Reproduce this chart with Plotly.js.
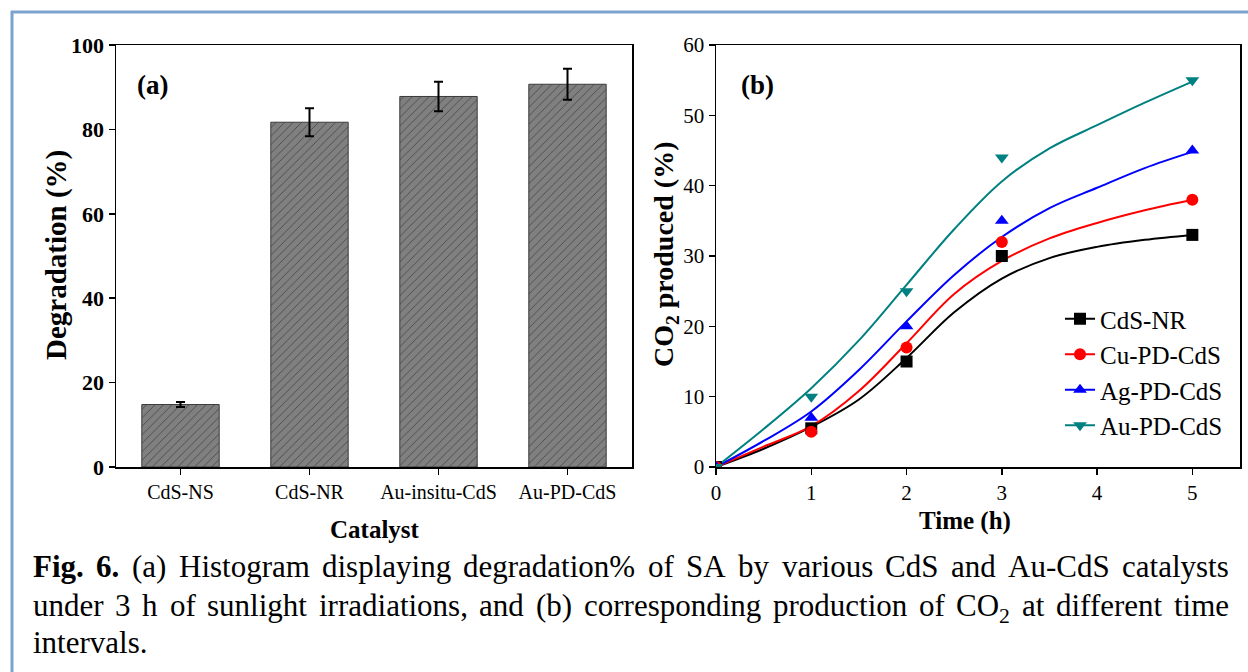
<!DOCTYPE html>
<html>
<head>
<meta charset="utf-8">
<script src="https://cdn.plot.ly/plotly-3.0.1.min.js"></script>
<style>html,body{margin:0;padding:0;background:#fff;}#chart{width:1248px;height:672px;}</style>
</head>
<body>
<div id="chart"></div>
<script>
// ---------- Data ----------
const categories = ['CdS-NS', 'CdS-NR', 'Au-insitu-CdS', 'Au-PD-CdS'];
const degradation = [14.8, 81.7, 87.8, 90.7];
const degradationErr = [0.6, 3.3, 3.5, 3.7];

const timeH = [0, 1, 2, 3, 5];
const co2CdSNR = [0, 5.5, 15, 30, 33];
const co2CuPD = [0, 5, 17, 32, 38];
const co2AgPD = [0, 7, 20, 35, 45];
const co2AuPD = [0, 10, 25, 44, 55];

const fitTime = [0, 0.5, 1, 1.5, 2, 2.5, 3, 3.5, 4, 4.5, 5];
const fitCdSNR = [0, 2.6, 5.7, 9.6, 15.5, 22, 26.8, 29.7, 31.3, 32.3, 33];
const fitCuPD = [0, 2.9, 5.8, 10.8, 17.6, 24.6, 29.3, 32.5, 34.7, 36.5, 38];
const fitAgPD = [0, 3.7, 7.9, 13.8, 20.7, 27.3, 32.7, 36.8, 39.7, 42.5, 44.8];
const fitAuPD = [0, 5.4, 11.2, 18.0, 25.9, 33.8, 40.6, 45.3, 48.6, 51.8, 54.8];

const seriesNames = ['CdS-NR', 'Cu-PD-CdS', 'Ag-PD-CdS', 'Au-PD-CdS'];
const seriesColors = ['#000000', '#ff0000', '#0000ff', '#008080'];
const seriesSymbols = ['square', 'circle', 'triangle-up', 'triangle-down'];

const captionLine1 = ['Fig.', '6.', '(a)', 'Histogram', 'displaying', 'degradation%', 'of', 'SA', 'by', 'various', 'CdS', 'and', 'Au-CdS', 'catalysts'];
const captionLine2 = ['under', '3', 'h', 'of', 'sunlight', 'irradiations,', 'and', '(b)', 'corresponding', 'production', 'of', 'CO|2', 'at', 'different', 'time'];
const captionLine3 = 'intervals.';

// ---------- Geometry (pixels) ----------
const W = 1248, H = 672;
const px = v => v / W;
const py = v => 1 - v / H;
const SERIF = '"Liberation Serif", "Times New Roman", serif';
const CAP_SIZE = 31;

// ---------- Traces ----------
const traces = [];
traces.push({
  type: 'bar', x: categories, y: degradation, xaxis: 'x', yaxis: 'y',
  width: 0.6, showlegend: false,
  marker: {
    color: '#7c7c7c',
    line: {color: '#3a3a3a', width: 1},
    pattern: {shape: '/', fillmode: 'replace', bgcolor: '#808080', fgcolor: '#2e2e2e', size: 6, solidity: 0.1}
  },
  error_y: {type: 'data', array: degradationErr, visible: true, color: '#000', thickness: 2, width: 4.5}
});

const co2Series = [co2CdSNR, co2CuPD, co2AgPD, co2AuPD];
const fitSeries = [fitCdSNR, fitCuPD, fitAgPD, fitAuPD];
for (let i = 0; i < 4; i++) {
  traces.push({
    type: 'scatter', mode: 'lines', x: fitTime, y: fitSeries[i], xaxis: 'x2', yaxis: 'y2',
    line: {color: seriesColors[i], width: 2, shape: 'spline', smoothing: 1}, showlegend: false
  });
}
for (let i = 0; i < 4; i++) {
  traces.push({
    type: 'scatter', mode: 'markers', x: timeH, y: co2Series[i], xaxis: 'x2', yaxis: 'y2',
    marker: {color: seriesColors[i], symbol: seriesSymbols[i], size: 12}, showlegend: false
  });
}
for (let i = 0; i < 4; i++) {
  traces.push({
    type: 'scatter', mode: 'lines+markers', x: [null], y: [null], xaxis: 'x2', yaxis: 'y2',
    name: seriesNames[i],
    line: {color: seriesColors[i], width: 2},
    marker: {color: seriesColors[i], symbol: seriesSymbols[i], size: 12}
  });
}

// ---------- Caption (justified) ----------
const cvs = document.createElement('canvas');
const ctx = cvs.getContext('2d');
function measure(t, bold, size) {
  ctx.font = (bold ? 'bold ' : '') + size + 'px "Liberation Serif"';
  return ctx.measureText(t).width;
}
function wordInfo(w, boldCount, idx) {
  const bold = idx < boldCount;
  if (w.indexOf('|') >= 0) {
    const parts = w.split('|');
    return {html: parts[0] + '<sub>' + parts[1] + '</sub>', bold: bold, sub: true,
      width: measure(parts[0], bold, CAP_SIZE) + measure(parts[1], bold, CAP_SIZE * 0.7)};
  }
  return {html: w, bold: bold, sub: false, width: measure(w, bold, CAP_SIZE)};
}
function justifiedLine(words, boldCount, yc, left, right) {
  const info = words.map((w, i) => wordInfo(w, boldCount, i));
  const total = info.reduce((s, o) => s + o.width, 0);
  const gap = (right - left - total) / (words.length - 1);
  const anns = [];
  let x = left;
  info.forEach(o => {
    anns.push({
      xref: 'paper', yref: 'paper', x: px(x), y: py(yc), xanchor: 'left', yanchor: 'middle',
      yshift: o.sub ? -3 : 0,
      text: o.bold ? '<b>' + o.html + '</b>' : o.html, showarrow: false, borderpad: 0,
      font: {family: SERIF, size: CAP_SIZE, color: '#000'}
    });
    x += o.width + gap;
  });
  return anns;
}

function label(x, y, text, size, angle) {
  return {xref: 'paper', yref: 'paper', x: px(x), y: py(y), xanchor: 'center', yanchor: 'middle',
    text: text, textangle: angle || 0, showarrow: false, font: {family: SERIF, size: size, color: '#000'}};
}

const annotations = [];
annotations.push(label(152, 85, '<b>(a)</b>', 27));
annotations.push(label(757, 85, '<b>(b)</b>', 27));
annotations.push(label(56, 255, '<b>Degradation (%)</b>', 29, -90));
annotations.push(label(665, 254, '<b>CO<sub>2</sub> produced (%)</b>', 28, -90));
annotations.push(label(375, 529, '<b>Catalyst</b>', 25));
annotations.push(label(965, 521, '<b>Time (h)</b>', 25));

const capLeft = 32, capRight = 1228;
annotations.push(...justifiedLine(captionLine1, 2, 566, capLeft, capRight));
annotations.push(...justifiedLine(captionLine2, 0, 605, capLeft, capRight));
annotations.push({xref: 'paper', yref: 'paper', x: px(capLeft), y: py(642), xanchor: 'left', yanchor: 'middle',
  text: captionLine3, showarrow: false, borderpad: 0, font: {family: SERIF, size: CAP_SIZE, color: '#000'}});

// ---------- Layout ----------
const axisCommon = {
  showline: true, linecolor: '#000', linewidth: 1.5, mirror: true,
  ticks: 'outside', ticklen: 6, tickwidth: 1.5, tickcolor: '#000',
  showgrid: false, zeroline: false
};
const layout = {
  width: W, height: H,
  margin: {l: 0, r: 0, t: 0, b: 0},
  paper_bgcolor: '#fff', plot_bgcolor: '#fff',
  bargap: 0.4,
  xaxis: Object.assign({}, axisCommon, {
    domain: [px(116), px(632)], anchor: 'y', type: 'category', range: [-0.5, 3.5],
    tickfont: {family: SERIF, size: 20, color: '#000'}
  }),
  yaxis: Object.assign({}, axisCommon, {
    domain: [py(467), py(45)], anchor: 'x', range: [0, 100], dtick: 20,
    tickfont: {family: SERIF, size: 22, color: '#000', weight: 'bold'}
  }),
  xaxis2: Object.assign({}, axisCommon, {
    domain: [px(716), px(1240)], anchor: 'y2', range: [0, 5.5], dtick: 1, tick0: 0,
    tickfont: {family: SERIF, size: 21, color: '#000'}
  }),
  yaxis2: Object.assign({}, axisCommon, {
    domain: [py(467), py(45)], anchor: 'x2', range: [0, 60], dtick: 10,
    tickfont: {family: SERIF, size: 21, color: '#000'}
  }),
  legend: {
    x: px(1060), y: py(296), xanchor: 'left', yanchor: 'top',
    bgcolor: 'rgba(0,0,0,0)', borderwidth: 0,
    font: {family: SERIF, size: 25, color: '#000'}
  },
  shapes: [
    {type: 'line', xref: 'paper', yref: 'paper', x0: px(11), x1: 1, y0: py(12), y1: py(12),
      line: {color: '#7ba3cb', width: 3}},
    {type: 'line', xref: 'paper', yref: 'paper', x0: px(12), x1: px(12), y0: py(11), y1: 0,
      line: {color: '#7ba3cb', width: 3}}
  ],
  annotations: annotations
};

Plotly.newPlot('chart', traces, layout, {staticPlot: true, displayModeBar: false});
</script>
</body>
</html>
